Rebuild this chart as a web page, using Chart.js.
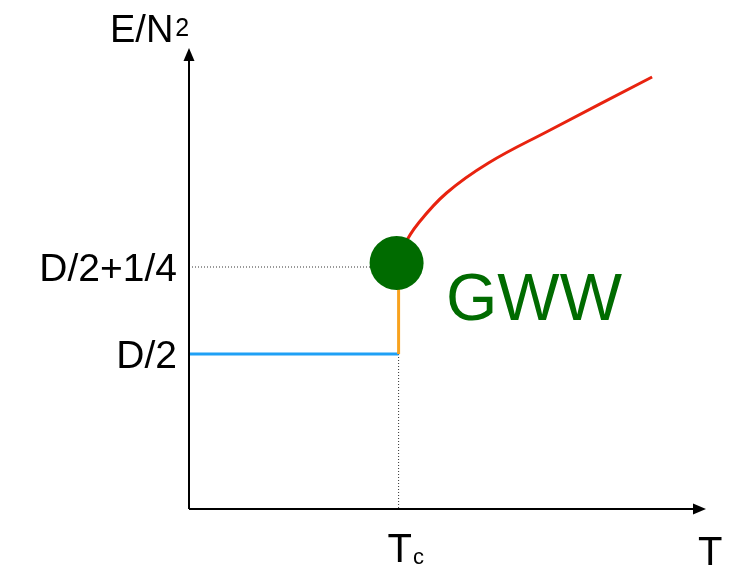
<!DOCTYPE html>
<html>
<head>
<meta charset="utf-8">
<script src="https://cdn.jsdelivr.net/npm/chart.js@4"></script>
<style>
  body { margin: 0; background: #fff; }
  #wrap { width: 733px; height: 570px; }
</style>
</head>
<body>
<div id="wrap"><canvas id="canvas"></canvas></div>
<script>
// units: T and E/N^2 in arbitrary diagram units
const Tc = 2.10
const E_low = 1.55    // D/2
const E_high = 2.42   // D/2+1/4

const blueT = [0, Tc]
const blueE = [E_low, E_low]

const orangeT = [Tc, Tc]
const orangeE = [E_low, E_high]

const redT = [2.10, 2.16, 2.30, 2.58, 3.00, 3.60, 4.64]
const redE = [2.42, 2.64, 2.86, 3.16, 3.46, 3.78, 4.32]

const gwwPoint = [2.08, 2.46]

const yTickValues = [E_low, E_high]
const yTickLabels = ['D/2', 'D/2+1/4']

const pts = (xs, ys) => xs.map((x, i) => ({ x: x, y: ys[i] }))

const FONT = '"Liberation Sans", Arial, Helvetica, sans-serif'

const diagram = {
  id: 'diagram',
  afterDatasetsDraw(chart) {
    const c = chart.ctx
    const xs = chart.scales.x, ys = chart.scales.y
    const x0 = xs.getPixelForValue(0), y0 = ys.getPixelForValue(0)
    const xEnd = xs.getPixelForValue(xs.max), yEnd = ys.getPixelForValue(ys.max)
    c.save()
    c.strokeStyle = '#000'
    c.fillStyle = '#000'
    c.lineWidth = 2
    // axes
    c.beginPath()
    c.moveTo(x0, y0); c.lineTo(xEnd - 10, y0)
    c.moveTo(x0, y0); c.lineTo(x0, yEnd + 10)
    c.stroke()
    // arrow heads
    c.beginPath()
    c.moveTo(xEnd, y0); c.lineTo(xEnd - 13, y0 - 5.5); c.lineTo(xEnd - 13, y0 + 5.5)
    c.closePath(); c.fill()
    c.beginPath()
    c.moveTo(x0, yEnd); c.lineTo(x0 - 5.5, yEnd + 13); c.lineTo(x0 + 5.5, yEnd + 13)
    c.closePath(); c.fill()

    // y tick labels
    c.font = '39px ' + FONT
    c.textAlign = 'right'
    c.textBaseline = 'alphabetic'
    yTickValues.forEach((v, i) => {
      c.fillText(yTickLabels[i], x0 - 12, ys.getPixelForValue(v) + 14)
    })

    // axis titles
    c.textAlign = 'left'
    c.font = '38px ' + FONT
    c.fillText('E/N', 110, 42)
    const w = c.measureText('E/N').width
    c.font = '25px ' + FONT
    c.fillText('2', 110 + w + 2, 36)

    c.font = '40px ' + FONT
    const tx = xs.getPixelForValue(Tc)
    c.fillText('T', tx - 11, 562)
    const tw = c.measureText('T').width
    c.font = '22px ' + FONT
    c.fillText('c', tx - 11 + tw + 1, 564)

    c.font = '40px ' + FONT
    c.fillText('T', 698, 565)

    // GWW label
    c.fillStyle = '#006b00'
    c.font = '66px ' + FONT
    c.fillText('GWW', 446, 320)
    c.restore()
  }
}

new Chart(document.getElementById('canvas'), {
  type: 'scatter',
  data: {
    datasets: [
      {
        label: 'GWW',
        data: [{ x: gwwPoint[0], y: gwwPoint[1] }],
        pointRadius: 27,
        pointBackgroundColor: '#006b00',
        pointBorderWidth: 0,
        order: 0
      },
      {
        label: 'high T',
        data: pts(redT, redE),
        showLine: true,
        borderColor: '#e8230f',
        borderWidth: 3,
        pointRadius: 0,
        tension: 0.4,
        order: 1
      },
      {
        label: 'jump',
        data: pts(orangeT, orangeE),
        showLine: true,
        borderColor: '#f8a21e',
        borderWidth: 3,
        pointRadius: 0,
        order: 2
      },
      {
        label: 'low T',
        data: pts(blueT, blueE),
        showLine: true,
        borderColor: '#1fa0f5',
        borderWidth: 3,
        pointRadius: 0,
        order: 3
      },
      {
        label: 'guide E',
        data: pts([0, gwwPoint[0] - 0.26], [E_high, E_high]),
        showLine: true,
        borderColor: '#333',
        borderWidth: 1,
        borderDash: [1, 2],
        pointRadius: 0,
        order: 4
      },
      {
        label: 'guide T',
        data: pts([Tc, Tc], [E_low, 0]),
        showLine: true,
        borderColor: '#333',
        borderWidth: 1,
        borderDash: [1, 2],
        pointRadius: 0,
        order: 4
      }
    ]
  },
  options: {
    responsive: true,
    maintainAspectRatio: false,
    animation: false,
    layout: { padding: { left: 189, right: 26, top: 48, bottom: 61 } },
    plugins: { legend: { display: false }, tooltip: { enabled: false } },
    scales: {
      x: { type: 'linear', min: 0, max: 5.18, display: false },
      y: { type: 'linear', min: 0, max: 4.61, display: false }
    }
  },
  plugins: [diagram]
})
</script>
</body>
</html>
